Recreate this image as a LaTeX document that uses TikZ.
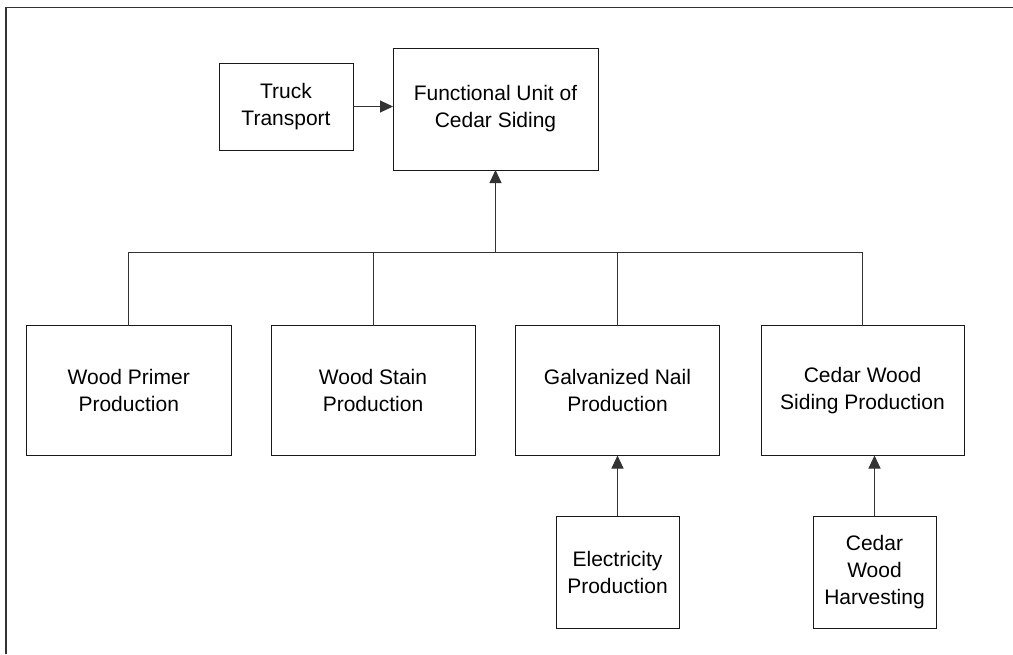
\documentclass[tikz,border=0pt]{standalone}
\usepackage{fontspec}
\setmainfont{Liberation Sans}
\usetikzlibrary{arrows.meta}
\begin{document}
\begin{tikzpicture}[x=1pt,y=-1pt,
  proc/.style={draw=black!90, line width=1pt, rectangle, inner sep=0pt, outer sep=0pt,
    align=center, font=\fontsize{21}{27}\selectfont, text=black},
  link/.style={draw=black!80, line width=1pt},
  arr/.style={link, -{Triangle[length=13pt,width=12pt]}},
  frame/.style={draw=black!80, line width=1.6pt}]
  \useasboundingbox (0,0) rectangle (1013,654);

  % outer frame (top and left edges only)
  \draw[frame] (6,654) -- (6,7.5) -- (1013,7.5);

  % top level
  \node[proc, minimum width=134pt, minimum height=87pt] (truck) at (286,106.5) {Truck\\Transport};
  \node[proc, minimum width=205pt, minimum height=122pt] (fu) at (495.5,109) {Functional Unit of\\Cedar Siding};

  % production processes
  \node[proc, minimum width=204.5pt, minimum height=130pt] (primer) at (128.75,390.5) {Wood Primer\\Production};
  \node[proc, minimum width=204pt, minimum height=130pt] (stain) at (373,390.5) {Wood Stain\\Production};
  \node[proc, minimum width=204pt, minimum height=130pt] (nail) at (617.5,390.5) {Galvanized Nail\\Production};
  \node[proc, minimum width=203pt, minimum height=130pt] (siding) at (862.5,390.5) {Cedar Wood\\Siding Production};

  % upstream processes
  \node[proc, minimum width=123pt, minimum height=112pt] (elec) at (617.5,572) {Electricity\\Production};
  \node[proc, minimum width=123pt, minimum height=112pt] (harv) at (874.5,572) {Cedar\\Wood\\Harvesting};

  % collecting bus
  \coordinate (bus) at (495.5,252);
  \draw[link] (primer.north) |- (siding.north |- bus) -- (siding.north);
  \draw[link] (stain.north) -- (stain.north |- bus);
  \draw[link] (nail.north) -- (nail.north |- bus);
  \draw[arr] (fu.south |- bus) -- (fu.south);

  % other flows
  \draw[arr] (truck.east) -- (truck.east -| fu.west);
  \draw[arr] (elec.north) -- (nail.south);
  \draw[arr] (harv.north) -- (harv.north |- siding.south);
\end{tikzpicture}
\end{document}
